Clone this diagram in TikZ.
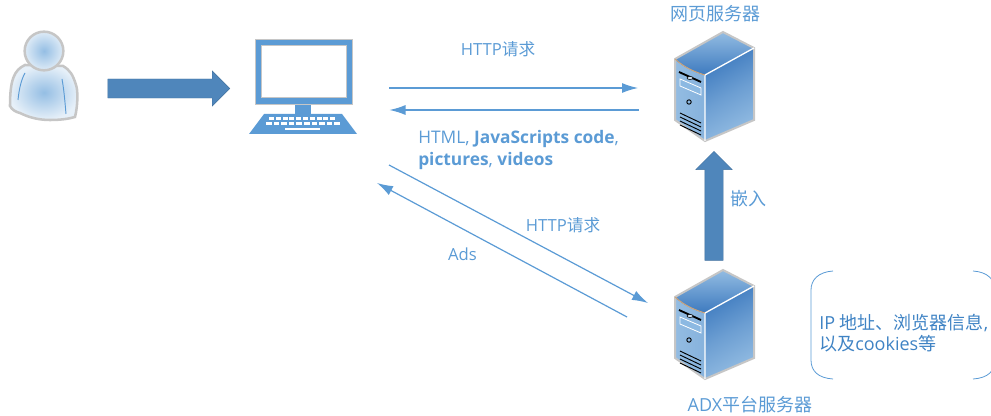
\documentclass[tikz,border=0pt]{standalone}
\usepackage{fontspec}
\setmainfont{Open Sans}
\newfontfamily\cjk{Noto Sans CJK SC}
\usepackage{tikz}
\usetikzlibrary{shapes,arrows,arrows.meta}
\definecolor{lineblue}{HTML}{5B9BD5}
\definecolor{textblue}{HTML}{3F83C4}
\definecolor{arrowblue}{HTML}{4F86BB}
\definecolor{edgegray}{HTML}{C6C6C6}
\definecolor{towerdark}{HTML}{3D7ABF}
\definecolor{towerlight}{HTML}{93BCE2}

% server tower, #1 is the top corner
\newcommand{\servertower}[1]{
    \begin{scope}[shift={#1}]
        \fill [left color=towerlight, right color=towerlight!85!towerdark] (-48,27) .. controls (-38,36) and (-28,40) .. (-18,43) -- (-18,109) -- (-48,88) -- cycle;
        \fill [left color=towerdark, right color=towerlight, middle color=towerlight!55!towerdark, shading angle=30] (-18,43) -- (31,16) -- (31,88) -- (-18,109) -- cycle;
        \fill [bottom color=towerdark, top color=towerlight] (-48,27) -- (0,0) -- (31,16) -- (-18,43) .. controls (-28,40) and (-38,36) .. (-48,27) -- cycle;
        \draw [edgegray, line width=1.5] (-48,27) -- (0,0) -- (31,16) -- (31,88) -- (-18,109) -- (-48,88) -- cycle;
        \draw [white, line width=1] (31,16) -- (-18,43) -- (-18,109);
        \draw [brown!70!white, line width=0.7] (-48,27) .. controls (-38,36) and (-28,40) .. (-18,43);
        \draw [black, line width=1.4] (-44,40) -- (-22,50);
        \fill [lineblue!30, draw=black, line width=0.4] (-33,46) ellipse (3 and 1.5);
        \draw [white, fill=lineblue!70, line width=0.6] (-43,47) -- (-22,56) -- (-22,63) -- (-43,54) -- cycle;
        \draw [black, line width=0.7] (-34,70) circle (2.2);
        \foreach \row in {81,85,89,93} {
            \draw [black, line width=0.7] (-43,\row) -- (-22,\row+10);
        }
    \end{scope}
}

\begin{document}
\begin{tikzpicture}[>=latex',x=0.75pt,y=-0.75pt]
    \tikzstyle{caption} = [text=lineblue, inner sep=0pt, font=\fontsize{12.5}{16.5}\selectfont];
    \tikzstyle{title} = [caption, font=\fontsize{13.5}{16}\selectfont];
    \tikzstyle{towerbox} = [inner sep=0pt, minimum width=60pt, minimum height=60pt];
    \tikzstyle{link} = [-{Latex[length=12pt,width=7.5pt]}, lineblue, line width=0.9pt];
    \tikzstyle{bigarrow} = [shape=single arrow, fill=arrowblue, draw=arrowblue!85!black, line width=0.3pt, inner sep=0pt, single arrow tip angle=90];

    \useasboundingbox (0,0) rectangle (991,416);

    % User
    \draw [edgegray, line width=1.9pt, inner color=lineblue!65, outer color=lineblue!15]
        (25,65) .. controls (14,70) and (10,80) .. (10,106) .. controls (12,110) and (16,112) .. (20,113)
        .. controls (30,118) and (40,120) .. (50,120) .. controls (60,120) and (68,119) .. (75,117)
        .. controls (78,105) and (78,90) .. (76,85) .. controls (73,75) and (70,70) .. (63,66) -- cycle;
    \draw [lineblue, line width=0.7pt] (25,73) .. controls (21,80) and (19,90) .. (18,100);
    \draw [lineblue, line width=0.7pt] (62,79) .. controls (64,90) and (65,102) .. (66,114);
    \node [draw=edgegray, line width=1.9pt, shape=circle, minimum size=29pt, inner sep=0pt, inner color=lineblue!65, outer color=lineblue!20] (user) at (44,51) {};

    % Computer
    \fill [lineblue] (264,114) -- (342,114) -- (357,134) -- (249,134) -- cycle;
    \node [fill=lineblue, minimum width=12pt, minimum height=8pt, inner sep=0pt] (stand) at (303,109) {};
    \node [fill=lineblue, draw=edgegray, line width=0.4pt, minimum width=73pt, minimum height=49pt, inner sep=0pt] (computer) at (303.5,71.5) {};
    \node [fill=white, draw=edgegray, line width=0.4pt, minimum width=64pt, minimum height=39pt, inner sep=0pt] (screen) at (303.5,71.5) {};
    \foreach \k in {0,...,9} {
        \fill [white] (269+\k*6.8,117.5) rectangle +(5,2.6);
        \fill [white] (266+\k*7.6,122.5) rectangle +(5.6,3);
    }
    \fill [white] (285,128) rectangle (320,130.5);

    % Servers
    \servertower{(723,32)}
    \servertower{(723,270)}
    \node [towerbox] (web) at (714,87) {};
    \node [towerbox] (adx) at (714,325) {};
    \node [title] (webname) at (715,14) {\cjk 网页服务器};
    \node [title] (adxname) at (750,405) {ADX{\cjk 平台服务器}};

    % Big arrows
    \node [bigarrow, minimum height=91.5pt, single arrow head extend=6pt] (walk) at (164,88.5) {\rule{0pt}{14pt}};
    \node [bigarrow, rotate=90, minimum height=81.75pt, single arrow head extend=6.75pt] (embed) at (714,210.5) {\rule{0pt}{13.5pt}};

    % Link ends
    \coordinate (reqa) at (389,88);
    \coordinate (reqb) at (638,88);
    \coordinate (repa) at (638.5,110);
    \coordinate (repb) at (389.5,110);
    \coordinate (adsa) at (389,165);
    \coordinate (adsb) at (648,303);
    \coordinate (adsc) at (627,317);
    \coordinate (adsd) at (377,183);

    % Paths
    \draw [link] (reqa) -- (reqb);
    \draw [link] (repa) -- (repb);
    \draw [link] (adsa) -- (adsb);
    \draw [link] (adsc) -- (adsd);

    % Labels
    \node [caption] (req) at (498,49) {HTTP{\cjk 请求}};
    \node [caption, anchor=west, align=left, font=\fontsize{13}{16.5}\selectfont] (reply) at (418,150) {HTML, \textbf{JavaScripts code},\\\textbf{pictures}, \textbf{videos}};
    \node [caption] (adreq) at (563,225) {HTTP{\cjk 请求}};
    \node [caption] (ads) at (462.5,254) {Ads};
    \node [title] (embedname) at (748.5,199) {\cjk 嵌入};

    % Bracket
    \draw [lineblue, line width=0.6pt] (833,271) .. controls (818,272) and (811,280) .. (811,290) -- (811,360) .. controls (811,371) and (818,378) .. (833,379);
    \draw [lineblue, line width=0.6pt] (973,271) .. controls (988,272) and (995,280) .. (995,290) -- (995,360) .. controls (995,371) and (988,378) .. (973,379);
    \node [title, text=textblue, anchor=west, align=left] (info) at (819,333) {IP {\cjk 地址、浏览器信息},\\{\cjk 以及}cookies{\cjk 等}};
\end{tikzpicture}
\end{document}
